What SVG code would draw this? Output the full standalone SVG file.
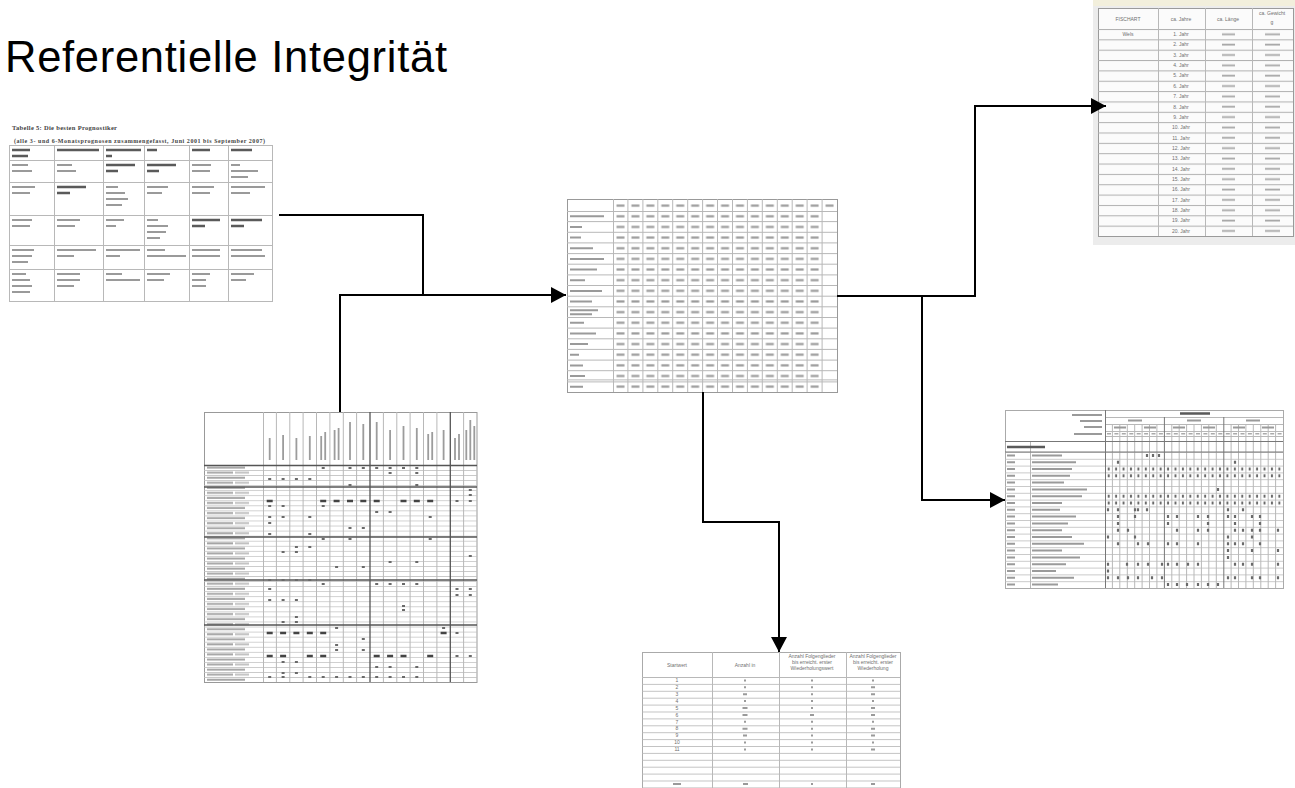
<svg xmlns="http://www.w3.org/2000/svg" width="1295" height="788" viewBox="0 0 1295 788">
<style>
.grid{fill:none;stroke:#b8b8b8;stroke-width:1}
.bar{fill:none;stroke:#9a9a9a;stroke-width:2}
.bold{fill:none;stroke:#5a5a5a;stroke-width:2.4}
.mk{fill:none;stroke:#6a6a6a;stroke-width:2.2}
.mkb{fill:none;stroke:#444;stroke-width:2.6}
.tiny{font-family:"Liberation Sans",Arial,sans-serif;font-size:5px;fill:#6f6f6f}
.conn{fill:none;stroke:#000;stroke-width:2}
</style>
<defs>
<marker id="arr" markerUnits="userSpaceOnUse" markerWidth="16" markerHeight="17" refX="15" refY="8" orient="auto"><path d="M0,0 L15,8 L0,16 z" fill="#000"/></marker>
<pattern id="cellB" patternUnits="userSpaceOnUse" x="613" y="211" width="14.933" height="10.647"><rect x="3.5" y="4.2" width="8" height="2.2" fill="#9c9c9c"/></pattern>
<pattern id="rowsC" patternUnits="userSpaceOnUse" x="1098" y="29" width="195" height="10.35"><rect x="0" y="0" width="195" height="1" fill="#b0b0b0"/></pattern>
<pattern id="valsC" patternUnits="userSpaceOnUse" x="1205" y="29" width="88" height="10.35"><rect x="17" y="4.4" width="13" height="1.8" fill="#a8a8a8"/><rect x="60" y="4.4" width="15" height="1.8" fill="#a8a8a8"/></pattern>
<pattern id="rowsD" patternUnits="userSpaceOnUse" x="1005" y="452" width="278" height="6.8"><rect x="0" y="0" width="278" height="0.8" fill="#bdbdbd"/></pattern>
<pattern id="marksD" patternUnits="userSpaceOnUse" x="1105" y="452" width="7.42" height="6.8"><rect x="2.7" y="1.9" width="2" height="3" fill="#6a6a6a"/></pattern>
<pattern id="rowsE" patternUnits="userSpaceOnUse" x="204" y="465" width="273" height="5.05"><rect x="0" y="0" width="273" height="0.7" fill="#bdbdbd"/></pattern>
<pattern id="labE" patternUnits="userSpaceOnUse" x="204" y="465" width="59" height="10.1"><rect x="3" y="1.6" width="38" height="2" fill="#a5a5a5"/><rect x="3" y="6.65" width="26" height="2" fill="#a5a5a5"/><rect x="31" y="6.65" width="14" height="2" fill="#c0c0c0"/></pattern>
<pattern id="rowsF" patternUnits="userSpaceOnUse" x="642" y="677" width="258" height="6.9"><rect x="0" y="0" width="258" height="0.8" fill="#b5b5b5"/></pattern>
</defs>
<rect width="1295" height="788" fill="#fff"/>
<g id="title"><text x="5" y="72" font-family="Liberation Sans, Arial, sans-serif" font-size="43.5" textLength="442" fill="#000">Referentielle Integrität</text></g>

<g id="tbl-prognostiker">
<text x="12" y="130" font-family="Liberation Serif, serif" font-weight="bold" font-size="6.5" textLength="105" fill="#444">Tabelle 5: Die besten Prognostiker</text>
<text x="14" y="143" font-family="Liberation Serif, serif" font-weight="bold" font-size="6" textLength="251" fill="#444">(alle 3- und 6-Monatsprognosen zusammengefasst, Juni 2001 bis September 2007)</text>
<path class="grid" d="M9.5 145V301M54.5 145V301M103.5 145V301M144.5 145V301M189.5 145V301M228.5 145V301M272.5 145V301M9 145.5H273M9 160.5H273M9 182.5H273M9 215.5H273M9 245.5H273M9 269.5H273M9 301.5H273"/>
<path class="bold" d="M12 150h18M12 156h16M57 150h42M106 150h35M106 156h6M147 150h10M192 150h18M231 150h21M106 165h29M106 171h12M147 165h29M147 171h12M57 187h29M57 193h13M192 220h28M192 226h13M231 220h31M231 226h13"/>
<path class="bar" d="M12 165h16M12 171h20M57 165h15M57 171h19M192 165h19M192 171h18M231 165h9M231 171h27M231 177h17M12 187h23M12 193h18M106 187h12M106 193h19M106 199h22M106 205h16M147 187h21M147 193h15M192 187h22M192 193h18M231 187h34M231 193h19M12 220h20M12 226h18M57 220h23M57 226h18M106 220h18M106 226h10M147 220h11M147 226h21M147 232h19M147 238h13M12 250h22M12 256h20M12 262h16M57 250h39M57 256h17M106 250h34M106 256h14M147 250h18M147 256h39M192 250h28M192 256h28M231 250h31M231 256h34M12 274h14M12 280h18M12 286h20M12 292h18M57 274h23M57 280h23M57 286h17M106 274h16M106 280h34M147 274h23M147 280h17M192 274h18M192 280h14M192 286h14M231 274h23M231 280h15"/>
</g>

<g id="tbl-laender">
<rect x="567.5" y="199.5" width="270" height="193" fill="#fff" stroke="#999"/>
<path class="grid" d="M567 211.5H837M567 221.6H837M567 232.3H837M567 242.9H837M567 253.6H837M567 264.2H837M567 274.9H837M567 285.5H837M567 296.2H837M567 306.8H837M567 317.5H837M567 328.1H837M567 338.8H837M567 349.4H837M567 360.1H837M567 370.7H837M567 379.9H837M567 381.9H837M613.5 199V392M627.9 199V392M642.9 199V392M657.8 199V392M672.7 199V392M687.7 199V392M702.6 199V392M717.5 199V392M732.5 199V392M747.4 199V392M762.3 199V392M777.3 199V392M792.2 199V392M807.1 199V392M822.1 199V392"/>
<rect x="613" y="199" width="224" height="12" fill="url(#cellB)"/>
<rect x="613" y="211" width="209" height="181" fill="url(#cellB)"/>
<path class="bar" d="M570 216.3h34M570 227h12M570 237.6h11M570 248.3h23M570 258.9h34M570 269.6h27M570 280.2h15M570 290.9h32M570 301.5h22M570 310.2h28M570 314.2h22M570 322.8h14M570 333.5h26M570 344.1h18M570 354.8h9M570 365.4h13M570 376h15M570 386.7h13"/>
</g>

<g id="tbl-fische">
<rect x="1093" y="0" width="202" height="245" fill="#ececec"/>
<rect x="1093" y="0" width="202" height="6" fill="#f2efdc"/>
<rect x="1098.5" y="8.5" width="195" height="228" fill="#fbfbfb" stroke="#9a9a9a"/>
<rect x="1098" y="29" width="195" height="207" fill="url(#rowsC)"/>
<rect x="1205" y="29" width="88" height="207" fill="url(#valsC)"/>
<path class="grid" d="M1158.5 8V236M1205.5 8V236M1252.5 8V236" stroke="#a0a0a0"/>
<text class="tiny" x="1128" y="21" text-anchor="middle">FISCHART</text>
<text class="tiny" x="1181" y="21" text-anchor="middle">ca. Jahre</text>
<text class="tiny" x="1228" y="21" text-anchor="middle">ca. Länge</text>
<text class="tiny" x="1272" y="15" text-anchor="middle">ca. Gewicht</text>
<text class="tiny" x="1272" y="24" text-anchor="middle">g</text>
<text class="tiny" x="1128" y="36" text-anchor="middle">Wels</text>
<g class="tiny" text-anchor="middle">
<text x="1181" y="36">1. Jahr</text><text x="1181" y="46.4">2. Jahr</text><text x="1181" y="56.7">3. Jahr</text><text x="1181" y="67.1">4. Jahr</text><text x="1181" y="77.4">5. Jahr</text><text x="1181" y="87.8">6. Jahr</text><text x="1181" y="98.1">7. Jahr</text><text x="1181" y="108.5">8. Jahr</text><text x="1181" y="118.8">9. Jahr</text><text x="1181" y="129.2">10. Jahr</text><text x="1181" y="139.5">11. Jahr</text><text x="1181" y="149.9">12. Jahr</text><text x="1181" y="160.2">13. Jahr</text><text x="1181" y="170.6">14. Jahr</text><text x="1181" y="180.9">15. Jahr</text><text x="1181" y="191.3">16. Jahr</text><text x="1181" y="201.6">17. Jahr</text><text x="1181" y="212">18. Jahr</text><text x="1181" y="222.3">19. Jahr</text><text x="1181" y="232.7">20. Jahr</text>
</g>
</g>

<g id="tbl-matrix-rechts">
<rect x="1005.5" y="410.5" width="278" height="178" fill="#fff" stroke="#aaa"/>
<rect x="1005" y="452" width="278" height="136" fill="url(#rowsD)"/>
<rect x="1105" y="465.6" width="178" height="13.6" fill="url(#marksD)"/>
<rect x="1105" y="492.8" width="178" height="13.6" fill="url(#marksD)"/>
<path class="grid" d="M1105 417.5H1283M1105 424.5H1283M1105 431.5H1283M1105 436.5H1283M1030.5 441V588M1112.4 424V588M1119.8 424V588M1127.3 424V588M1134.7 424V588M1142.1 424V588M1149.5 424V588M1156.9 424V588M1171.8 424V588M1179.2 424V588M1186.6 424V588M1194 424V588M1201.4 424V588M1208.8 424V588M1216.3 424V588M1231.1 424V588M1238.5 424V588M1245.9 424V588M1253.3 424V588M1260.8 424V588M1268.2 424V588M1275.6 424V588"/>
<path fill="none" stroke="#777" stroke-width="1" d="M1005 441.5H1283M1105.5 410V588M1164.4 417V588M1223.8 417V588M1005 452H1283"/>
<path class="bar" d="M1072 415h30M1080 421h22M1084 427h18M1074 434h28M1128 420.5h14M1187 420.5h14M1246 420.5h14M1114 427.5h12M1144 427.5h12M1173 427.5h12M1203 427.5h12M1233 427.5h12M1262 427.5h12"/>
<path fill="none" stroke="#aaa" stroke-width="1.6" d="M1107 433.8h4M1114.4 433.8h4M1121.8 433.8h4M1129.3 433.8h4M1136.7 433.8h4M1144.1 433.8h4M1151.5 433.8h4M1158.9 433.8h4M1166.4 433.8h4M1173.8 433.8h4M1181.2 433.8h4M1188.6 433.8h4M1196 433.8h4M1203.4 433.8h4M1210.8 433.8h4M1218.3 433.8h4M1225.8 433.8h4M1233.1 433.8h4M1240.5 433.8h4M1247.9 433.8h4M1255.3 433.8h4M1262.8 433.8h4M1270.2 433.8h4M1277.6 433.8h4"/>
<path class="bold" d="M1180 413.5h30M1007 447h38"/>
<path class="bar" stroke-width="1.8" d="M1007 455.4h8M1032 455.4h30M1007 462.2h8M1032 462.2h44M1007 469h8M1032 469h40M1007 475.8h8M1032 475.8h38M1007 482.6h8M1032 482.6h32M1007 489.4h8M1032 489.4h55M1007 496.2h8M1032 496.2h50M1007 503h8M1032 503h30M1007 509.8h8M1032 509.8h28M1007 516.6h8M1032 516.6h44M1007 523.4h8M1032 523.4h36M1007 530.2h8M1032 530.2h30M1007 537h8M1032 537h40M1007 543.8h8M1032 543.8h52M1007 550.6h8M1032 550.6h30M1007 557.4h8M1032 557.4h48M1007 564.2h8M1032 564.2h34M1007 571h8M1032 571h24M1007 577.8h8M1032 577.8h42M1007 584.6h8M1032 584.6h26"/>
<path class="mk" stroke-width="2" d="M1147 454v3M1153 454v3M1159 454v3M1118 460.7v3M1235 460.7v3M1218 487.9v3M1108 508.3v3M1118 508.3v3M1135 508.3v3M1138 508.3v3M1147 508.3v3M1228 508.3v3M1243 508.3v3M1118 515.1v3M1135 515.1v3M1168 515.1v3M1177 515.1v3M1198 515.1v3M1208 515.1v3M1228 515.1v3M1235 515.1v3M1252 515.1v3M1260 515.1v3M1118 521.9v3M1168 521.9v3M1208 521.9v3M1235 521.9v3M1260 521.9v3M1118 528.7v3M1128 528.7v3M1177 528.7v3M1198 528.7v3M1208 528.7v3M1235 528.7v3M1243 528.7v3M1252 528.7v3M1260 528.7v3M1278 528.7v3M1108 535.5v3M1135 535.5v3M1228 535.5v3M1252 535.5v3M1118 542.3v3M1138 542.3v3M1148 542.3v3M1168 542.3v3M1177 542.3v3M1198 542.3v3M1228 542.3v3M1235 542.3v3M1243 542.3v3M1260 542.3v3M1228 549.1v3M1252 549.1v3M1278 549.1v3M1228 555.9v3M1108 562.7v3M1127 562.7v3M1138 562.7v3M1148 562.7v3M1162 562.7v3M1168 562.7v3M1177 562.7v3M1188 562.7v3M1198 562.7v3M1235 562.7v3M1243 562.7v3M1252 562.7v3M1278 562.7v3M1108 569.5v3M1108 576.3v3M1118 576.3v3M1128 576.3v3M1138 576.3v3M1152 576.3v3M1162 576.3v3M1228 576.3v3M1235 576.3v3M1252 576.3v3M1260 576.3v3M1278 576.3v3M1168 583.1v3M1177 583.1v3M1187 583.1v3M1198 583.1v3M1208 583.1v3M1218 583.1v3"/>
</g>

<g id="tbl-matrix-links">
<rect x="204.5" y="412.5" width="272.5" height="270" fill="#fff" stroke="#999"/>
<rect x="204" y="465" width="273" height="217" fill="url(#rowsE)"/>
<rect x="204" y="465" width="59" height="217" fill="url(#labE)"/>
<path class="grid" d="M263.5 412V682M276.4 412V682M289.8 412V682M303.1 412V682M316.5 412V682M329.9 412V682M343.3 412V682M356.6 412V682M383.4 412V682M396.8 412V682M410.1 412V682M423.5 412V682M436.9 412V682M463.6 412V682"/>
<path fill="none" stroke="#555" stroke-width="1.3" d="M370 412V682M450.3 412V682M204 465.5H477M204 487H477M204 537H477M204 580H477M204 625H477"/>
<path fill="none" stroke="#9c9c9c" stroke-width="1.8" d="M269.7 460v-22M283.1 460v-25M296.4 460v-22M309.8 460v-24M321.2 460v-24M325.2 460v-28M334.6 460v-30M338.6 460v-32M350 460v-38M363.3 460v-36M376.7 460v-38M390.1 460v-30M403.5 460v-34M416.8 460v-32M428.2 460v-26M432.2 460v-28M443.6 460v-30M455 460v-22M459 460v-26M466.3 460v-30M470.3 460v-40M474.3 460v-34"/>
<path class="mk" d="M321.7 468h3M348.5 468h3M361.8 468h3M375.2 468h3M388.6 468h3M402 468h3M415.3 468h3M388.6 473h3M415.3 473h3M268.2 479h3M281.6 479h3M294.9 479h3M308.3 479h3M348.5 485h3M415.3 485h3M468.8 490h3M468.8 495h3M455.5 501h3M468.8 501h3M268.2 506h3M281.6 506h3M321.7 506h3M375.2 512h3M388.6 512h3M268.2 517h3M281.6 517h3M308.3 517h3M428.7 517h3M268.2 523h3M348.5 528h3M361.8 528h3M268.2 534h3M308.3 534h3M321.7 539h3M348.5 539h3M428.7 539h3M294.9 547h3M308.3 547h3M281.6 552h3M294.9 552h3M468.8 556h3M388.6 562h3M415.3 562h3M335.1 567h3M361.8 567h3M268.2 580h3M281.6 580h3M294.9 580h3M308.3 580h3M321.7 584h3M375.2 584h3M388.6 584h3M402 584h3M415.3 584h3M268.2 589h3M455.5 589h3M468.8 589h3M455.5 595h3M468.8 595h3M268.2 600h3M281.6 600h3M294.9 600h3M402 606h3M402 610h3M294.9 617h3M281.6 622h3M294.9 622h3M335.1 628h3M442.1 628h3M455.5 633h3M361.8 639h3M335.1 645h3M335.1 650h3M361.8 650h3M455.5 656h3M468.8 656h3M281.6 662h3M294.9 662h3M375.2 667h3M388.6 667h3M415.3 667h3M281.6 673h3M294.9 673h3M268.2 677h3M281.6 677h3M308.3 677h3M321.7 677h3M335.1 677h3M348.5 677h3M361.8 677h3M375.2 677h3M388.6 677h3M402 677h3M415.3 677h3"/>
<path class="mkb" d="M266.7 501h6M320.2 501h6M333.6 501h6M347 501h6M360.3 501h6M373.7 501h6M400.5 501h6M413.8 501h6M427.2 501h6M266.7 633h6M280.1 633h6M293.4 633h6M306.8 633h6M320.2 633h6M440.6 633h6M266.7 656h6M280.1 656h6M306.8 656h6M320.2 656h6M373.7 656h6M387.1 656h6M400.5 656h6M427.2 656h6"/>
</g>

<g id="tbl-startwert">
<rect x="642.5" y="652.5" width="258" height="140" fill="#fff" stroke="#aaa"/>
<rect x="642" y="677" width="258" height="111" fill="url(#rowsF)"/>
<path class="grid" d="M712.5 652V788M779.5 652V788M846.5 652V788M642 677.5H900" stroke="#a0a0a0"/>
<g class="tiny" font-size="4.6" text-anchor="middle">
<text x="677" y="667">Startwert</text>
<text x="745" y="667">Anzahl in</text>
<text x="812" y="658">Anzahl Folgenglieder</text><text x="812" y="664">bis erreicht. erster</text><text x="812" y="670">Wiederholungswert</text>
<text x="873" y="658">Anzahl Folgenglieder</text><text x="873" y="664">bis erreicht. erster</text><text x="873" y="670">Wiederholung</text>
<text x="677" y="682">1</text><text x="677" y="689">2</text><text x="677" y="695.9">3</text><text x="677" y="702.8">4</text><text x="677" y="709.7">5</text><text x="677" y="716.6">6</text><text x="677" y="723.5">7</text><text x="677" y="730.4">8</text><text x="677" y="737.3">9</text><text x="677" y="744.2">10</text><text x="677" y="751.1">11</text>
</g>
<path class="bar" stroke-width="1.6" d="M744 680.4h2M744 687.3h2M743 694.2h4M744 701.1h2M742.5 708h5M742.5 714.9h5M744 721.8h2M742.5 728.7h5M743 735.6h4M744 742.5h2M744 749.4h2M811 680.4h2M811 687.3h2M811 694.2h2M811 701.1h2M811 708h2M810 714.9h4M811 721.8h2M811 728.7h2M811 735.6h2M811 742.5h2M811 749.4h2M872 680.4h2M871 687.3h4M871 694.2h4M872 701.1h2M871 708h4M871 714.9h4M872 721.8h2M871 728.7h4M871 735.6h4M872 742.5h2M871 749.4h4M673 784h8M743 784h5M811 784h2M871 784h4"/>
</g>

<g id="connectors">
<path class="conn" d="M279 215H423V295H566" marker-end="url(#arr)"/>
<path class="conn" d="M340 412V295H423"/>
<path class="conn" d="M837 296H975V106H1106" marker-end="url(#arr)"/>
<path class="conn" d="M922 296V500H1005" marker-end="url(#arr)"/>
<path class="conn" d="M703 392V522H779V652" marker-end="url(#arr)"/>
</g>
</svg>
